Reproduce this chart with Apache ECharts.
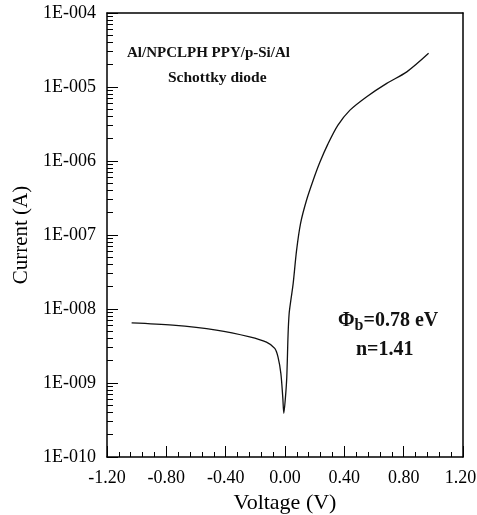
<!DOCTYPE html>
<html><head><meta charset="utf-8">
<script src="https://cdn.jsdelivr.net/npm/echarts@6/dist/echarts.min.js"></script>
<style>html,body{margin:0;padding:0;background:#fff}#c{width:477px;height:515px}</style>
</head><body><div id="c"></div>
<script>
const voltage = [-1.034,-0.757,-0.463,-0.238,-0.125,-0.069,-0.047,-0.028,-0.015,-0.008,0.003,0.012,0.021,0.028,0.039,0.055,0.078,0.105,0.145,0.19,0.235,0.289,0.357,0.438,0.551,0.686,0.821,0.968];
const current = [6.5e-9,6.05e-9,5.18e-9,4.2e-9,3.56e-9,2.93e-9,2.24e-9,1.35e-9,6.4e-10,3.9e-10,6.4e-10,1.2e-9,4.7e-9,8.7e-9,1.3e-8,2.2e-8,6.2e-8,1.44e-7,2.95e-7,5.5e-7,9.6e-7,1.69e-6,3.05e-6,4.87e-6,7.4e-6,1.12e-5,1.6e-5,2.85e-5];
const xTickLabels = ['-1.20','-0.80','-0.40','0.00','0.40','0.80','1.20'];
const yTickLabels = ['1E-010','1E-009','1E-008','1E-007','1E-006','1E-005','1E-004'];

const minorExps = [];
for (let n = -10; n < -4; n++) for (let k = 2; k <= 9; k++) minorExps.push(n + Math.log10(k));

const serif = 'Liberation Serif';
const frameLine = {color: '#000', width: 1.5};
const chart = echarts.init(document.getElementById('c'), null, {renderer: 'canvas'});
chart.setOption({
  animation: false,
  backgroundColor: '#fff',
  grid: {left: 107, right: 14, top: 13, bottom: 58, show: false, containLabel: false, outerBoundsMode: 'none'},
  xAxis: [{
    type: 'value', min: -1.2, max: 1.2, interval: 0.4, position: 'bottom',
    axisLine: {show: true, onZero: false, lineStyle: frameLine},
    axisTick: {show: true, inside: true, length: 11, lineStyle: {color: '#000', width: 1}},
    minorTick: {show: true, splitNumber: 5, length: 5, lineStyle: {color: '#000', width: 1}},
    splitLine: {show: false},
    axisLabel: {margin: 12, color: '#000', fontFamily: serif, fontSize: 18,
      formatter: v => {
        const i = Math.round((v + 1.2) / 0.4);
        return i === xTickLabels.length - 1 ? '{r|' + xTickLabels[i] + '}' : xTickLabels[i];
      },
      rich: {r: {color: '#000', fontFamily: serif, fontSize: 18, padding: [0, 5, 0, 0]}}},
    name: 'Voltage (V)', nameLocation: 'middle', nameGap: 35,
    nameTextStyle: {color: '#000', fontFamily: serif, fontSize: 22}
  }, {
    type: 'value', min: -1.2, max: 1.2, position: 'top',
    axisLine: {show: true, onZero: false, lineStyle: frameLine},
    axisTick: {show: false}, axisLabel: {show: false}, splitLine: {show: false}
  }],
  yAxis: [{
    type: 'log', logBase: 10, min: 1e-10, max: 1e-4, position: 'left',
    axisLine: {show: true, onZero: false, lineStyle: frameLine},
    axisTick: {show: true, inside: true, length: 11, lineStyle: {color: '#000', width: 1}},
    splitLine: {show: false},
    axisLabel: {margin: 11, color: '#000', fontFamily: serif, fontSize: 18,
      formatter: v => yTickLabels[Math.round(Math.log10(v)) + 10]},
    name: 'Current (A)', nameLocation: 'middle', nameGap: 72,
    nameTextStyle: {color: '#000', fontFamily: serif, fontSize: 21}
  }, {
    type: 'value', min: -10, max: -4, position: 'left',
    axisLine: {show: false, onZero: false},
    axisLabel: {show: false},
    splitLine: {show: false},
    axisTick: {show: true, inside: true, length: 6, customValues: minorExps, lineStyle: {color: '#000', width: 1}}
  }, {
    type: 'value', min: -10, max: -4, position: 'right',
    axisLine: {show: true, onZero: false, lineStyle: frameLine},
    axisTick: {show: false}, axisLabel: {show: false}, splitLine: {show: false}
  }],
  graphic: [
    {type: 'text', left: 127, top: 46, style: {text: 'Al/NPCLPH PPY/p-Si/Al', font: 'bold 15px "Liberation Serif"', fill: '#111'}},
    {type: 'text', left: 168, top: 70, style: {text: 'Schottky diode', font: 'bold 15.5px "Liberation Serif"', fill: '#111'}},
    {type: 'text', left: 338, top: 311, style: {
      text: '{a|Φ}{s|b}{a|=0.78 eV}',
      rich: {
        a: {fontFamily: serif, fontWeight: 'bold', fontSize: 20, lineHeight: 25, fill: '#111'},
        s: {fontFamily: serif, fontWeight: 'bold', fontSize: 16, lineHeight: 16, verticalAlign: 'bottom', fill: '#111'}
      }}},
    {type: 'text', left: 356, top: 340, style: {text: 'n=1.41', font: 'bold 20px "Liberation Serif"', fill: '#111'}}
  ],
  series: [{
    type: 'line', xAxisIndex: 0, yAxisIndex: 0,
    data: voltage.map((v, i) => [v, current[i]]),
    showSymbol: false, smooth: 0.3,
    lineStyle: {color: '#111', width: 1.3}
  }]
});
</script></body></html>
